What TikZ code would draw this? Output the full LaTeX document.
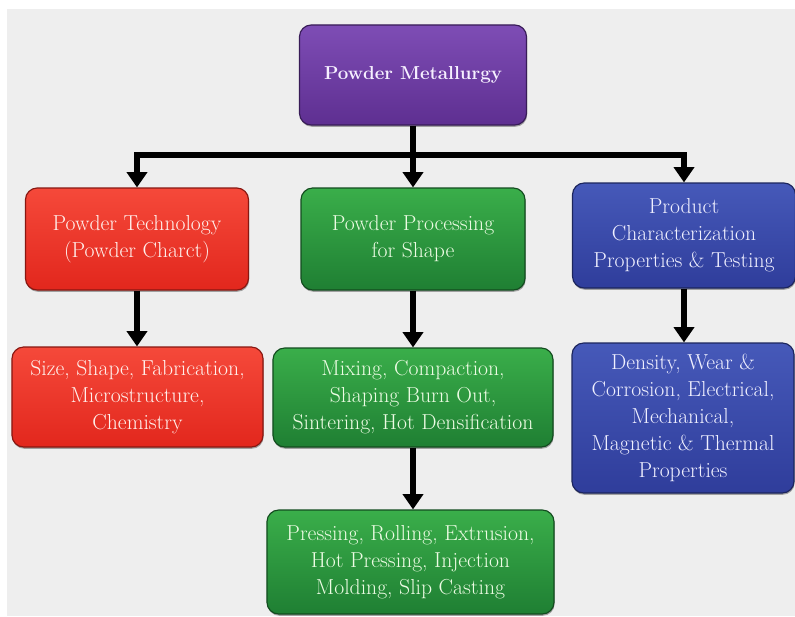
\documentclass[tikz,border=0pt]{standalone}
\usepackage{tikz}
\usetikzlibrary{shapes,arrows.meta,shadows}

\definecolor{bggray}{HTML}{EEEEEE}
\definecolor{purpletop}{HTML}{7E4DB5}
\definecolor{purplebot}{HTML}{5E2F91}
\definecolor{redtop}{HTML}{F5493A}
\definecolor{redbot}{HTML}{E2271D}
\definecolor{greentop}{HTML}{3AAE4A}
\definecolor{greenbot}{HTML}{1F7F33}
\definecolor{bluetop}{HTML}{4659B9}
\definecolor{bluebot}{HTML}{2F3D9B}
\definecolor{purpletext}{HTML}{F6F0FF}
\definecolor{redtext}{HTML}{FFF0EC}
\definecolor{greentext}{HTML}{EDFCE4}
\definecolor{bluetext}{HTML}{F0F0FF}

\tikzset{
  box/.style={rectangle, rounded corners=10pt, align=center, inner sep=0pt,
    line width=1pt, font=\fontsize{18.5}{23}\selectfont,
    drop shadow={shadow xshift=0.5pt, shadow yshift=-1.5pt, opacity=0.7}},
  purplebox/.style={box, top color=purpletop, bottom color=purplebot,
    draw=purplebot!60!black, text=purpletext},
  redbox/.style={box, top color=redtop, bottom color=redbot,
    draw=redbot!60!black, text=redtext},
  greenbox/.style={box, top color=greentop, bottom color=greenbot,
    draw=greenbot!60!black, text=greentext},
  bluebox/.style={box, top color=bluetop, bottom color=bluebot,
    draw=bluebot!60!black, text=bluetext},
  arr/.style={line width=5pt, -{Triangle[width=17pt,length=13pt]}},
}

\begin{document}
\begin{tikzpicture}[x=0.03cm, y=-0.03cm]
  % background
  \useasboundingbox (0,0) rectangle (795,616);
  \fill[bggray] (7,9) rectangle (795,616);

  % top
  \node[purplebox, minimum width=6.81cm, minimum height=3.0cm,
    font=\fontsize{16}{23}\selectfont\bfseries] (pm) at (413,75) {Powder Metallurgy};

  % second row
  \node[redbox, minimum width=6.69cm, minimum height=3.06cm] (tech) at (137,239)
    {Powder Technology\\(Powder Charct)};
  \node[greenbox, minimum width=6.72cm, minimum height=3.06cm] (proc) at (413,239)
    {Powder Processing\\for Shape};
  \node[bluebox, minimum width=6.69cm, minimum height=3.15cm] (prod) at (684,235.5)
    {Product\\Characterization\\Properties \& Testing};

  % third row
  \node[redbox, minimum width=7.53cm, minimum height=3.0cm] (tech2) at (137.5,397)
    {Size, Shape, Fabrication,\\Microstructure,\\Chemistry};
  \node[greenbox, minimum width=8.4cm, minimum height=2.97cm] (proc2) at (413,397.5)
    {Mixing, Compaction,\\Shaping Burn Out,\\Sintering, Hot Densification};
  \node[bluebox, minimum width=6.66cm, minimum height=4.5cm] (prod2) at (683,418)
    {Density, Wear \&\\Corrosion, Electrical,\\Mechanical,\\Magnetic \& Thermal\\Properties};

  % last box
  \node[greenbox, minimum width=8.61cm, minimum height=3.12cm] (proc3) at (410.5,562)
    {Pressing, Rolling, Extrusion,\\Hot Pressing, Injection\\Molding, Slip Casting};

  % connectors
  \coordinate (split) at (413,155);
  \draw[arr] (pm.south) -- (proc.north);
  \draw[arr] (split) -| (tech.north);
  \draw[arr] (split) -| (prod.north);
  \draw[arr] (tech.south) -- (tech2.north -| tech.south);
  \draw[arr] (proc.south) -- (proc2.north -| proc.south);
  \draw[arr] (proc2.south) -- (proc3.north -| proc2.south);
  \draw[arr] (prod.south) -- (prod2.north -| prod.south);
\end{tikzpicture}
\end{document}
